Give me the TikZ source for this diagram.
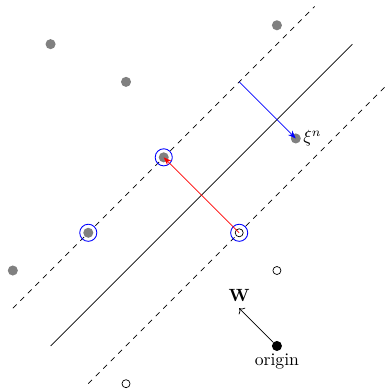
\documentclass[tikz,border=0pt]{standalone}
\usepackage{amsmath,amssymb}
\usepackage{tikz}
\usetikzlibrary{arrows.meta,positioning}

\begin{document}
\begin{tikzpicture}[x=0.75cm, y=0.75cm,
  posdot/.style={circle, fill=black!50, inner sep=0pt, minimum size=2mm},
  negdot/.style={circle, draw=black, fill=white, inner sep=0pt, minimum size=1.6mm},
  sv/.style={circle, draw=blue, line width=0.5pt, inner sep=0pt, minimum size=3.4mm},
  margin/.style={dashed, black},
  arr/.style={-{Stealth[length=1.6mm, width=1.2mm]}}]
\useasboundingbox (-7.34,-1.22) rectangle (2.94,9.17);
% separating line and margins
\coordinate (h1) at (-6,0); \coordinate (h2) at (2,8);
\coordinate (u1) at (-7,1); \coordinate (u2) at (1,9);
\coordinate (l1) at (-5,-1); \coordinate (l2) at (3,7);
\draw (h1) -- (h2);
\draw[margin] (u1) -- (u2);
\draw[margin] (l1) -- (l2);
% class one
\node[posdot] (p1) at (-6,8) {};
\node[posdot] (p2) at (-4,7) {};
\node[posdot] (p3) at (0,8.5) {};
\node[posdot] (p4) at (-7,2) {};
\node[posdot] (p5) at (-3,5) {};
\node[posdot] (p6) at (-5,3) {};
\node[posdot] (xi) at (0.5,5.5) {};
\node[right=0pt of xi, inner sep=1pt] (xilab) {$\xi^n$};
% class two
\node[negdot] (n1) at (0,2) {};
\node[negdot] (n2) at (-4,-1) {};
\node[negdot] (n3) at (-1,3) {};
% support vectors
\node[sv] (s1) at (p5) {};
\node[sv] (s2) at (p6) {};
\node[sv] (s3) at (n3) {};
% distances
\coordinate (m) at (-1,7);
\draw[arr, blue] (m) -- (xi.center);
\draw[arr, red, {Stealth[length=1.6mm, width=1.2mm]}-] (p5.center) -- (n3.center);
% weight vector
\node[circle, fill=black, inner sep=0pt, minimum size=2mm] (o) at (0,0) {};
\node[below=0pt of o, inner sep=1pt] (olab) {origin};
\coordinate (wtip) at (-1,1);
\draw[->] (o) -- (wtip);
\node[above=0pt of wtip] (wlab) {$\mathbf{W}$};
\end{tikzpicture}
\end{document}
